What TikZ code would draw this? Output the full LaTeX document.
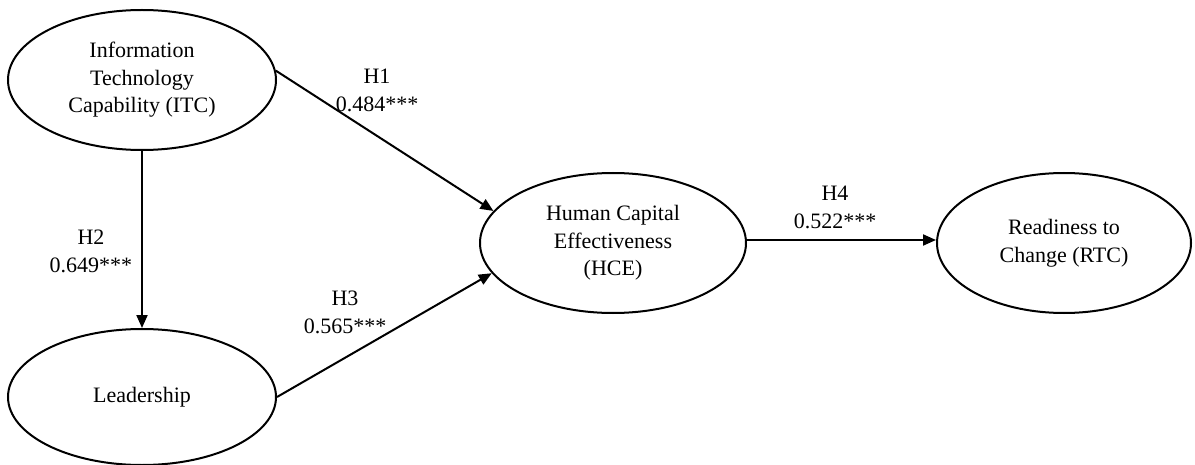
\documentclass[tikz,border=0pt]{standalone}
\usepackage{fontspec}
\setmainfont{Liberation Serif}
\usetikzlibrary{arrows.meta,shapes.geometric}
\begin{document}
\begin{tikzpicture}[x=0.5pt,y=-0.5pt,
  construct/.style={draw,ellipse,line width=1pt,inner sep=0pt,align=center,
    font=\fontsize{11pt}{13.8pt}\selectfont},
  path/.style={line width=1pt,-{Triangle[length=6.5pt,width=5.5pt]}},
  coef/.style={align=center,font=\fontsize{11pt}{14pt}\selectfont}]
\useasboundingbox (0,0) rectangle (1195,465);
\node[construct,minimum width=134pt,minimum height=70pt] (itc) at (142,80)
  {Information\\Technology\\Capability (ITC)};
\node[construct,minimum width=134pt,minimum height=68pt] (lead) at (142,397)
  {Leadership};
\node[construct,minimum width=133pt,minimum height=70pt] (hce) at (613,243)
  {Human Capital\\Effectiveness\\(HCE)};
\node[construct,minimum width=127pt,minimum height=70pt] (rtc) at (1064,243)
  {Readiness to\\Change (RTC)};
\draw[path] (itc.4) -- (hce.165);
\draw[path] (itc.south) -- (lead.north);
\draw[path] (lead.east) -- (hce.194);
\draw[path] (hce.east |- 0,240) -- (rtc.west |- 0,240);
\node[coef] (h1) at (377,90) {H1\\0.484***};
\node[coef] (h2) at (91,251) {H2\\0.649***};
\node[coef] (h3) at (345,312) {H3\\0.565***};
\node[coef] (h4) at (835,207) {H4\\0.522***};
\end{tikzpicture}
\end{document}
